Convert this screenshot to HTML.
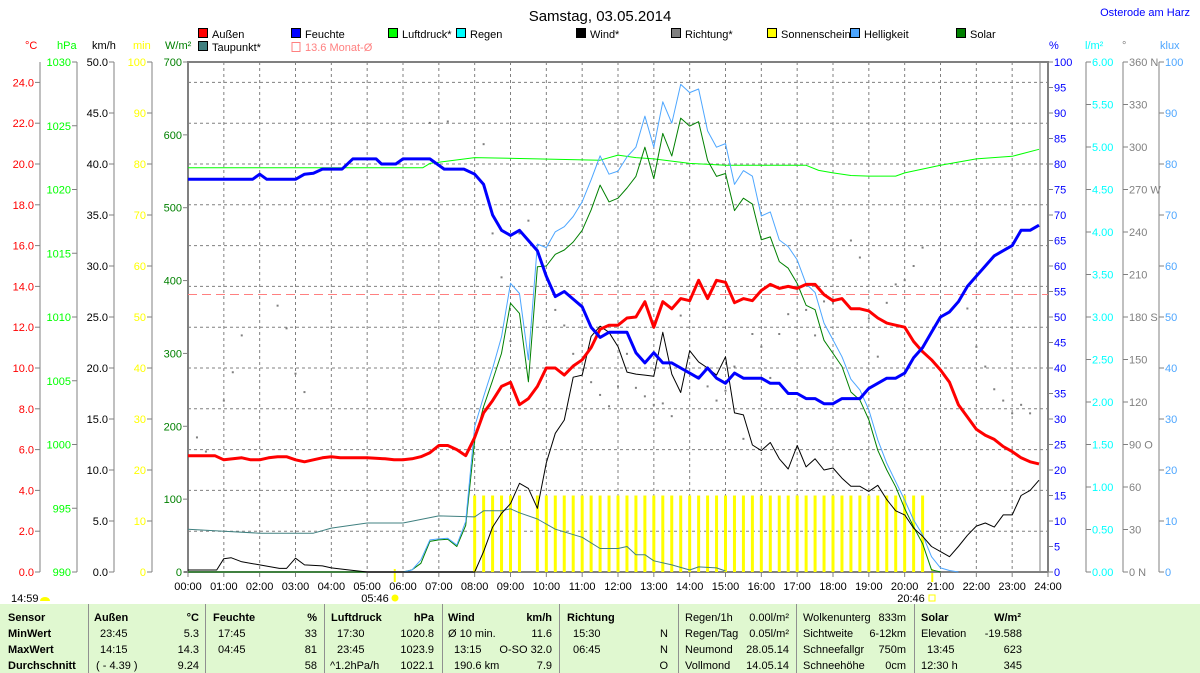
<!DOCTYPE html>
<html><head><meta charset="utf-8"><style>
body{margin:0;background:#fff;}
svg{display:block;font-family:"Liberation Sans",sans-serif;font-size:11px;}
.tb{position:absolute;left:0;top:604px;width:1200px;height:69px;background:#e0f8d0;font-family:"Liberation Sans",sans-serif;font-size:11px;}
.c{position:absolute;white-space:nowrap;}
.b{font-weight:bold;}
.sep{position:absolute;top:0;width:1px;height:69px;background:#909090;}
</style></head><body>
<div style="position:relative;width:1200px;height:673px;overflow:hidden">
<svg id="chart" width="1200" height="604" viewBox="0 0 1200 604">
<text x="600" y="21" text-anchor="middle" font-size="15">Samstag, 03.05.2014</text>
<text x="1190" y="16" text-anchor="end" fill="#0000ff">Osterode am Harz</text>
<g id="legend"></g>
<g id="axes"></g>
<g id="plot"></g>
</svg>
<div class="tb" id="table"></div>
</div>
<script>
// ---- data ----
const tempTimes=[0,0.75,1,1.25,1.5,1.75,2,2.25,2.5,2.75,3,3.25,3.5,3.75,4,4.25,4.5,4.75,5,5.5,5.75,6,6.25,6.5,6.75,7,7.25,7.5,7.75,8,8.25,8.5,8.75,9,9.25,9.5,9.75,10,10.25,10.5,10.75,11,11.25,11.5,11.75,12,12.25,12.5,12.75,13,13.25,13.5,13.75,14,14.25,14.5,14.75,15,15.25,15.5,15.75,16,16.25,16.5,16.75,17,17.25,17.5,17.75,18,18.25,18.5,18.75,19,19.25,19.5,19.75,20,20.25,20.5,20.75,21,21.25,21.5,21.75,22,22.25,22.5,22.75,23,23.25,23.5,23.75];
const tempValues=[5.7,5.7,5.5,5.55,5.6,5.5,5.5,5.6,5.65,5.65,5.5,5.4,5.5,5.6,5.65,5.6,5.6,5.6,5.6,5.55,5.5,5.5,5.55,5.65,5.85,6.2,6.2,6.0,5.7,6.6,7.8,8.4,9.1,9.3,8.2,8.5,9.1,10.0,10.0,9.65,10.1,10.4,11.0,11.9,12.1,12.1,12.45,12.5,13.25,12.0,13.25,12.9,13.4,13.3,14.3,13.4,14.3,14.2,13.2,13.4,13.3,13.8,14.1,13.9,14.0,13.9,14.1,14.1,13.6,13.3,13.4,12.9,12.9,12.8,12.45,12.2,12.1,12.0,11.3,10.8,10.4,9.9,9.3,8.2,7.6,7.0,6.7,6.5,6.15,5.9,5.6,5.4,5.3];
const humTimes=[0,1.8,2.0,2.2,3.0,3.25,3.5,3.75,4.3,4.6,5.25,5.4,5.8,6.0,6.75,7.15,7.7,8.0,8.25,8.5,8.75,9,9.25,9.5,9.75,10,10.25,10.5,10.75,11,11.25,11.5,11.75,12,12.25,12.5,12.75,13,13.25,13.5,13.75,14,14.25,14.5,14.75,15,15.25,15.5,16,16.25,16.5,16.75,17,17.25,17.5,17.75,18,18.25,18.5,18.75,19,19.25,19.5,19.75,20,20.25,20.5,20.75,21,21.25,21.5,21.75,22,22.25,22.5,22.75,23,23.25,23.5,23.75];
const humValues=[77,77,78,77,77,78,78.2,79,79,81,81,80,80,81,81,79,79,78,76,70,67,66,67,65,63,58,54,55,53.5,52,48,46,47,47,47,43,41,43,41,41,40,39,38,40,38,37,39,38,38,37,37,35,35,34,34,33,33,34,34,34,36,37,38,38,39,42,44,47,50,51,53,56,58,60,62,63,64,67,67,68];
const pressTimes=[0,6.55,6.75,8,11.5,12,12.5,13,14,15,16,17.25,17.6,18,18.5,19,19.75,20,21,22,23,23.75];
const pressValues=[1021.7,1021.7,1022.05,1022.5,1022.3,1022.7,1022.5,1022.4,1022.05,1021.9,1021.9,1021.9,1021.5,1021.3,1021.1,1021.05,1021.05,1021.3,1021.9,1022.4,1022.6,1023.15];
const dewTimes=[0,1,2,3,3.5,4,5,6,7,8,8.25,8.75,9,9.25,9.75,10.25,11,11.5,12,12.25,12.5,12.75,13,13.5,14,14.25,14.75,15];
const dewValues=[2.1,2.0,1.9,1.9,1.9,2.15,2.4,2.4,2.75,2.7,3.0,3.0,3.1,2.9,2.6,2.1,1.7,1.15,1.15,1.25,0.85,0.85,0.55,0.35,0.1,0.25,0.2,0.05];
const windTimes=[0,0.8,1.0,1.2,1.5,2.0,2.55,2.75,3.0,3.25,3.75,4.0,4.5,5.0,8.0,8.25,8.5,8.75,9,9.25,9.5,9.75,10,10.25,10.5,10.75,11,11.25,11.5,11.75,12,12.25,12.5,12.75,13,13.25,13.5,13.75,14,14.25,14.5,14.75,15,15.25,15.5,15.75,16,16.25,16.5,16.75,17,17.25,17.5,17.75,18,18.25,18.5,18.75,19,19.25,19.5,19.75,20,20.25,20.5,20.75,21,21.25,21.5,21.75,22,22.25,22.5,22.75,23,23.25,23.5,23.75];
const windValues=[0.2,0.2,1.3,1.4,1.0,0.7,0.35,0.35,1.35,0.7,0.6,0.4,0.2,0,0,2.0,4.4,5.75,6.7,8.7,8.2,6.25,10.7,13.6,14.9,19.1,19.3,23.1,24.1,23.5,22.1,19.6,19.4,19.3,19.2,23.5,19.4,17.6,21.7,20.6,20.0,19.3,21.1,15.6,15.4,12.45,11.9,12.7,11.1,10.1,12.4,10.3,11.1,10.0,10.2,9.2,8.4,8.4,7.9,8.5,7.1,6.0,5.6,4.3,3.5,2.5,2.0,1.5,2.5,3.6,4.5,4.8,4.4,5.6,5.6,7.5,8.0,9.0];
const solarTimes=[0,6.0,6.25,6.5,6.75,7,7.25,7.5,7.75,8,8.25,8.5,8.75,9,9.25,9.5,9.75,10,10.25,10.5,10.75,11,11.25,11.5,11.75,12,12.25,12.5,12.75,13,13.25,13.5,13.75,14,14.25,14.5,14.75,15,15.25,15.5,15.75,16,16.25,16.5,16.75,17,17.25,17.5,17.75,18,18.25,18.5,18.75,19,19.25,19.5,19.75,20,20.25,20.5,20.75,21];
const solarValues=[0,0,3,12,42,44,45,35,64,181,227,263,300,369,355,261,419,420,436,442,453,469,497,531,508,513,527,543,583,540,602,571,623,612,618,565,543,547,496,513,505,456,460,426,417,396,366,360,318,300,282,247,236,209,167,140,117,87,62,39,3,0];
const luxTimes=[6.0,6.25,6.5,6.75,7,7.25,7.5,7.75,8,8.25,8.5,8.75,9,9.25,9.5,9.75,10,10.25,10.5,10.75,11,11.25,11.5,11.75,12,12.25,12.5,12.75,13,13.25,13.5,13.75,14,14.25,14.5,14.75,15,15.25,15.5,15.75,16,16.25,16.5,16.75,17,17.25,17.5,17.75,18,18.25,18.5,18.75,19,19.25,19.5,19.75,20,20.25,20.5,20.75,21,21.25,21.5];
const luxValues=[0,0.4,2.4,6.3,6.5,6.6,5.3,9.9,28.5,34.4,39.9,46.1,56.6,54.6,41.6,64.3,63.6,66.7,67.7,69.7,72.6,76.9,81.6,78,78.6,81.4,83.3,89.4,83.3,92.2,88,95.6,94,94.7,86.5,83.3,84,76,78.7,77.6,69.8,70.6,65.1,63.8,61.2,56.5,54.8,48.8,45.5,42.2,37.8,35.7,31.8,25.9,21.3,17.7,14.1,10.2,7.3,3.0,0.8,0.3,0];
const dirTimes=[0.25,0.5,1.0,1.25,1.5,2.5,2.75,3.0,3.25,6.75,7.25,8.25,8.5,8.75,9.0,9.25,9.5,10.25,10.5,10.75,11.25,11.5,11.75,12.0,12.25,12.5,12.75,13.0,13.25,13.5,13.75,14.25,14.5,14.75,15.0,15.25,15.5,15.75,16.0,16.25,16.5,16.75,17.25,17.5,17.75,18.0,18.5,18.75,19.0,19.25,19.5,19.75,20.0,20.25,20.5,21.75,22.0,22.25,22.5,22.75,23.0,23.25,23.5];
const dirValues=[95,85,121,141,167,188,172,140,127,317,318,302,239,208,163,239,248,185,174,154,134,125,117,131,154,130,124,118,119,110,181,138,131,121,128,145,94,168,159,137,168,182,185,167,191,190,234,222,179,152,190,203,206,216,229,186,159,145,129,121,112,118,112];
const sunTimes=[];const sunValues=[];
for(let t=8;t<=20.5;t+=0.25){sunTimes.push(t);sunValues.push(Math.abs(t-9.5)<0.01?0:15);}
const monthAvg=13.6;
const hourLabels=["00:00","01:00","02:00","03:00","04:00","05:00","06:00","07:00","08:00","09:00","10:00","11:00","12:00","13:00","14:00","15:00","16:00","17:00","18:00","19:00","20:00","21:00","22:00","23:00","24:00"];
const dirLabels=["0 N","30","60","90 O","120","150","180 S","210","240","270 W","300","330","360 N"];

// ---- scales ----
const X0=188,X1=1048,Y0=572,Y1=62,H=Y0-Y1;
const xs=h=>X0+h*(X1-X0)/24;
const lin=(min,max)=>v=>Y0-(v-min)/(max-min)*H;
const yT=lin(0,25),yP=lin(990,1030),yW=lin(0,50),yM=lin(0,100),yS=lin(0,700),yH=lin(0,100),yR=lin(0,6),yD=lin(0,360),yK=lin(0,100);
const NS="http://www.w3.org/2000/svg";
function el(tag,attrs,parent,txt){const e=document.createElementNS(NS,tag);for(const k in attrs)e.setAttribute(k,attrs[k]);if(txt!=null)e.textContent=txt;parent.appendChild(e);return e;}
const axes=document.getElementById('axes'),plot=document.getElementById('plot'),leg=document.getElementById('legend');

// grid
for(let i=1;i<24;i++){const l=el('line',{x1:xs(i),x2:xs(i),y1:Y1,y2:Y0,stroke:'#808080','stroke-dasharray':'3,3'},plot);

}
for(let t=2;t<=24;t+=2){const l=el('line',{x1:X0,x2:X1,y1:yT(t),y2:yT(t),stroke:'#808080','stroke-dasharray':'3,3'},plot);

}
// frame
el('path',{d:`M${X0},${Y0}V${Y1}H${X1}V${Y0}`,fill:'none',stroke:'#808080','stroke-width':2},plot);
el('line',{x1:1040,x2:1040,y1:Y1,y2:Y0,stroke:'#808080'},plot);
el('line',{x1:X0-4,x2:X1,y1:Y0,y2:Y0,stroke:'#808080','stroke-width':2},plot);

// left axes
function vAxis(x,ticks,fn,color,fmt,side,name){
  const g=el('g',{},axes);
  
  
  el('line',{x1:x,x2:x,y1:Y1,y2:Y0,stroke:'#808080'},g);
  ticks.forEach((v,i)=>{const y=fn(v);
    if(side<0){el('line',{x1:x-5,x2:x,y1:y,y2:y,stroke:'#808080'},g);el('text',{x:x-6,y:y+4,'text-anchor':'end',fill:color},g,fmt(v,i));}
    else{el('line',{x1:x,x2:x+5,y1:y,y2:y,stroke:'#808080'},g);el('text',{x:x+6,y:y+4,fill:color},g,fmt(v,i));}
  });
}
const rng=(a,b,s)=>{const r=[];for(let v=a;v<=b+1e-9;v+=s)r.push(+v.toFixed(4));return r;};
vAxis(40,rng(0,24,2),yT,'#ff0000',v=>v.toFixed(1),-1,'celsius-axis');
vAxis(77,rng(990,1030,5),yP,'#00ff00',v=>v,-1,'hpa-axis');
vAxis(114,rng(0,50,5),yW,'#000',v=>v.toFixed(1),-1,'kmh-axis');
vAxis(152,rng(0,100,10),yM,'#ffff00',v=>v,-1,'min-axis');
vAxis(188,rng(0,700,100),yS,'#008000',v=>v,-1,'wm2-axis');
vAxis(1048,rng(0,100,5),yH,'#0000ff',v=>v,1,'percent-axis');
vAxis(1086,rng(0,6,0.5),yR,'#00ffff',v=>v.toFixed(2),1,'rain-axis');
vAxis(1123,rng(0,360,30),yD,'#808080',(v,i)=>dirLabels[i],1,'direction-axis');
vAxis(1159,rng(0,100,10),yK,'#4da6ff',v=>v,1,'klux-axis');
[[25,'°C','#ff0000'],[57,'hPa','#00ff00'],[92,'km/h','#000'],[133,'min','#ffff00'],[165,'W/m²','#008000'],[1049,'%','#0000ff'],[1085,'l/m²','#00ffff'],[1122,'°','#808080'],[1160,'klux','#4da6ff']].forEach(u=>{
  const t=el('text',{x:u[0],y:49,fill:u[2]},axes,u[1]);
  
  });

// x axis labels
hourLabels.forEach((s,i)=>{el('line',{x1:xs(i),x2:xs(i),y1:Y0,y2:Y0+5,stroke:'#808080'},axes);
  const t=el('text',{x:xs(i),y:590,'text-anchor':'middle'},axes,s);
  
  });
el('text',{x:375,y:602,'text-anchor':'middle'},axes,'05:46');
el('circle',{cx:395,cy:598,r:3.5,fill:'#ffff00'},axes);
el('line',{x1:xs(5.77),x2:xs(5.77),y1:Y0-3,y2:Y0+10,stroke:'#ffff00','stroke-width':2},axes);
el('text',{x:911,y:602,'text-anchor':'middle'},axes,'20:46');
el('rect',{x:929,y:595,width:6,height:6,fill:'none',stroke:'#ffff00'},axes);
el('line',{x1:xs(20.77),x2:xs(20.77),y1:Y0-3,y2:Y0+10,stroke:'#ffff00','stroke-width':2},axes);
el('text',{x:11,y:602},axes,'14:59');
el('path',{d:'M40,601 a5,4 0 0 1 10,0 z',fill:'#ffff00'},axes);

// month average
const ma=el('line',{x1:X0,x2:X1,y1:yT(monthAvg),y2:yT(monthAvg),stroke:'#ff8080','stroke-dasharray':'9,5'},plot);


// sunshine bars
sunTimes.forEach((t,i)=>{if(!sunValues[i])return;
  const r=el('rect',{x:xs(t)-1.5,y:yM(sunValues[i]),width:3,height:Y0-yM(sunValues[i]),fill:'#ffff00'},plot);
  
  });
function line(ts,vs,fn,color,w,name){
  const p=el('polyline',{points:ts.map((t,i)=>xs(t).toFixed(1)+','+fn(vs[i]).toFixed(1)).join(' '),fill:'none',stroke:color,'stroke-width':w,'stroke-linejoin':'round'},plot);
  
  }
line(dewTimes,dewValues,yT,'#408080',1,'dewpoint-line');
line(pressTimes,pressValues,yP,'#00ff00',1,'pressure-line');
dirTimes.forEach((t,i)=>{const d=el('rect',{x:xs(t)-1,y:yD(dirValues[i])-1,width:2,height:2,fill:'#808080'},plot);
  
  });
line(solarTimes,solarValues,yS,'#008000',1,'solar-line');
line(luxTimes,luxValues,yK,'#4da6ff',1,'brightness-line');
line(windTimes,windValues,yW,'#000000',1,'wind-line');
line(tempTimes,tempValues,yT,'#ff0000',3,'temperature-line');
line(humTimes,humValues,yH,'#0000ff',3,'humidity-line');

// legend
[[200,38,'#ff0000','Außen'],[293,38,'#0000ff','Feuchte'],[390,38,'#00ff00','Luftdruck*'],[458,38,'#00ffff','Regen'],[578,38,'#000000','Wind*'],[673,38,'#808080','Richtung*'],[769,38,'#ffff00','Sonnenschein'],[852,38,'#4da6ff','Helligkeit'],[958,38,'#008000','Solar'],[200,51,'#408080','Taupunkt*']].forEach(l=>{
  const g=el('g',{},leg);
  
  
  el('rect',{x:l[0]-1.5,y:l[1]-9.5,width:9,height:9,fill:l[2],stroke:'#000'},g);
  el('text',{x:l[0]+12,y:l[1]},g,l[3]);});
const gm=el('g',{},leg);


el('rect',{x:292,y:42.5,width:8,height:9,fill:'none',stroke:'#ff8080'},gm);
el('text',{x:305,y:51,fill:'#ff8080'},gm,'13.6 Monat-Ø');

// table
const tb=document.getElementById('table');
[88,205,324,442,559,678,796,914].forEach(x=>{const s=document.createElement('div');s.className='sep';s.style.left=x+'px';tb.appendChild(s);});
const rowsY=[8,24,40,56];
function cell(x,r,txt,bold,right){const d=document.createElement('div');d.className='c'+(bold?' b':'');d.textContent=txt;d.style.top=rowsY[r]+'px';
 if(right){d.style.right=(1200-x)+'px';}else d.style.left=x+'px';
 
 
 tb.appendChild(d);}
[['Sensor',1],['MinWert',1],['MaxWert',1],['Durchschnitt',1]].forEach((c,i)=>cell(8,i,c[0],true));
cell(94,0,'Außen',true);cell(199,0,'°C',true,true);
['23:45','14:15','( - 4.39 )'].forEach((s,i)=>cell(i<2?100:96,i+1,s));['5.3','14.3','9.24'].forEach((s,i)=>cell(199,i+1,s,false,true));
cell(213,0,'Feuchte',true);cell(317,0,'%',true,true);
['17:45','04:45'].forEach((s,i)=>cell(218,i+1,s));['33','81','58'].forEach((s,i)=>cell(317,i+1,s,false,true));
cell(331,0,'Luftdruck',true);cell(434,0,'hPa',true,true);
['17:30','23:45'].forEach((s,i)=>cell(337,i+1,s));cell(330,3,'^1.2hPa/h');['1020.8','1023.9','1022.1'].forEach((s,i)=>cell(434,i+1,s,false,true));
cell(448,0,'Wind',true);cell(552,0,'km/h',true,true);
cell(448,1,'Ø 10 min.');cell(454,2,'13:15');cell(454,3,'190.6 km');['11.6','O-SO 32.0','7.9'].forEach((s,i)=>cell(552,i+1,s,false,true));
cell(567,0,'Richtung',true);['15:30','06:45'].forEach((s,i)=>cell(573,i+1,s));['N','N','O'].forEach((s,i)=>cell(668,i+1,s,false,true));
['Regen/1h','Regen/Tag','Neumond','Vollmond'].forEach((s,i)=>cell(685,i,s));['0.00l/m²','0.05l/m²','28.05.14','14.05.14'].forEach((s,i)=>cell(789,i,s,false,true));
['Wolkenunterg','Sichtweite','Schneefallgr','Schneehöhe'].forEach((s,i)=>cell(803,i,s));['833m','6-12km','750m','0cm'].forEach((s,i)=>cell(906,i,s,false,true));
cell(921,0,'Solar',true);cell(1021,0,'W/m²',true,true);cell(921,1,'Elevation');cell(927,2,'13:45');cell(921,3,'12:30 h');
['-19.588','623','345'].forEach((s,i)=>cell(1022,i+1,s,false,true));
</script>
</body></html>
